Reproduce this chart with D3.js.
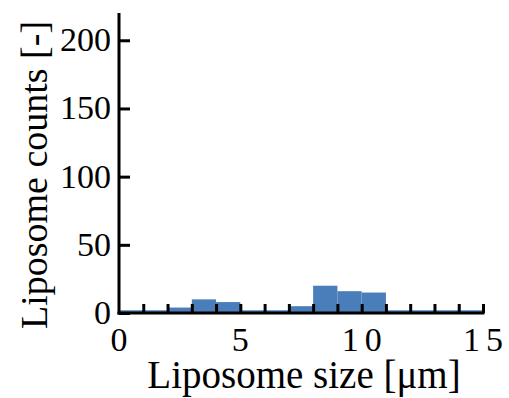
<!DOCTYPE html>
<html>
<head>
<meta charset="utf-8">
<script src="https://cdn.jsdelivr.net/npm/d3@7"></script>
<style>
  html, body { margin: 0; padding: 0; background: #fff; }
  svg { display: block; }
  text { font-family: "Liberation Serif", "Times New Roman", serif; fill: #000; }
</style>
</head>
<body>
<svg id="chart" width="509" height="398"></svg>
<script>
// Histogram bins: lower edge of each 1 µm bin and its liposome count
const binStarts = [0, 1, 2, 3, 4, 5, 6, 7, 8, 9, 10, 11, 12, 13, 14];
const counts    = [2, 2, 4, 10, 8, 2, 2, 5, 20, 16, 15, 2, 2, 2, 2];
const xTicks = [0, 5, 10, 15];
const yTicks = [0, 50, 100, 150, 200];
const xTitle = "Liposome size [μm]";
const yTitle = "Liposome counts [-]";

const svg = d3.select("#chart");
const plotL = 119, plotR = 483, plotB = 313, plotT = 13;

const x = d3.scaleLinear().domain([0, 15]).range([plotL, plotR]);
const y = d3.scaleLinear().domain([0, 220]).range([plotB, plotT]);

// bars
svg.append("g").selectAll("rect")
  .data(binStarts)
  .join("rect")
  .attr("x", (d) => x(d))
  .attr("width", (d) => x(d + 1) - x(d))
  .attr("y", (d, i) => y(counts[i]))
  .attr("height", (d, i) => y(0) - y(counts[i]))
  .attr("fill", "#4a7ebb");

// x axis: inward minor ticks at every integer, labels at 0,5,10,15
const xAxis = d3.axisBottom(x)
  .tickValues(d3.range(1, 16))
  .tickSize(-9)
  .tickSizeOuter(0)
  .tickFormat("");
const gx = svg.append("g").attr("transform", `translate(0,${plotB})`).call(xAxis);
gx.select(".domain").attr("stroke", "#000").attr("stroke-width", 3)
  .attr("d", `M${plotL - 1.5},0H${plotR + 1.5}`);
gx.selectAll(".tick line").attr("stroke", "#000").attr("stroke-width", 3);

svg.append("g").selectAll("text")
  .data(xTicks)
  .join("text")
  .attr("x", (d) => x(d) + (d >= 10 ? 3 : 0))
  .attr("y", plotB + 38)
  .attr("text-anchor", "middle")
  .attr("font-size", 34)
  .attr("letter-spacing", (d) => d >= 10 ? "6px" : "0px")
  .text((d) => d);

// y axis with inward ticks
const yAxis = d3.axisLeft(y)
  .tickValues(yTicks)
  .tickSize(-11)
  .tickSizeOuter(0)
  .tickFormat("");
const gy = svg.append("g").attr("transform", `translate(${plotL},0)`).call(yAxis);
gy.select(".domain").attr("stroke", "#000").attr("stroke-width", 3)
  .attr("d", `M0,${plotT}V${plotB + 1.5}`);
gy.selectAll(".tick line").attr("stroke", "#000").attr("stroke-width", 3);

svg.append("g").selectAll("text")
  .data(yTicks)
  .join("text")
  .attr("x", plotL - 8)
  .attr("y", (d) => y(d) + 11)
  .attr("text-anchor", "end")
  .attr("font-size", 34)
  .text((d) => d);

// axis titles
svg.append("text")
  .attr("x", (plotL + plotR) / 2 + 3)
  .attr("y", 388)
  .attr("text-anchor", "middle")
  .attr("font-size", 39)
  .text(xTitle);

svg.append("text")
  .attr("transform", `translate(47,${(plotT + plotB) / 2 + 12}) rotate(-90)`)
  .attr("text-anchor", "middle")
  .attr("font-size", 38)
  .text(yTitle);
</script>
</body>
</html>
